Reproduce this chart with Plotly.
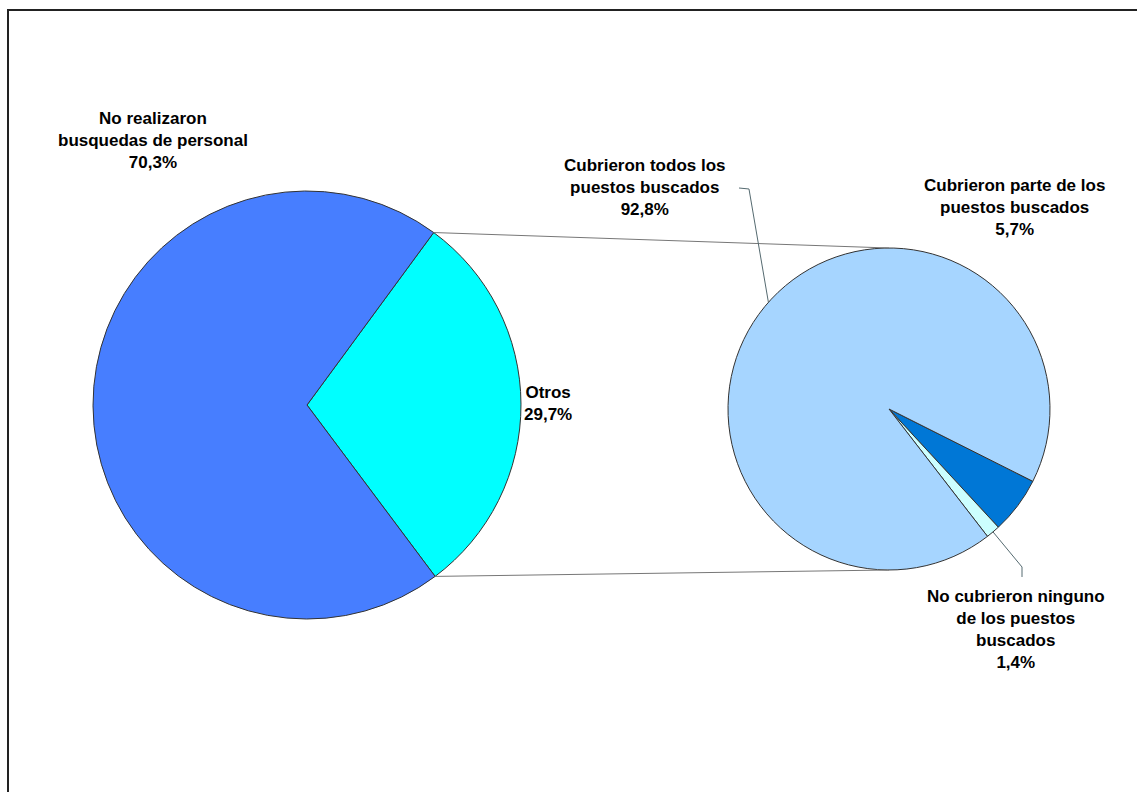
import math
import plotly.graph_objects as go

W, H = 1137, 792

# ---- data ----
left_labels = ["Otros", "No realizaron busquedas de personal"]
left_values = [29.7, 70.3]
left_colors = ["#00FFFF", "#477EFF"]

right_labels = ["Cubrieron parte de los puestos buscados",
                "No cubrieron ninguno de los puestos buscados",
                "Cubrieron todos los puestos buscados"]
right_values = [5.7, 1.4, 92.8]
right_colors = ["#0077D6", "#CCFFFF", "#A6D5FF"]

label_texts = {
    "No realizaron": "No realizaron<br>busquedas de personal<br>70,3%",
    "Otros": "Otros<br>29,7%",
    "todos": "Cubrieron todos los<br>puestos buscados<br>92,8%",
    "parte": "Cubrieron parte de los<br>puestos buscados<br>5,7%",
    "ninguno": "No cubrieron ninguno<br>de los puestos<br>buscados<br>1,4%",
}

# ---- geometry (pixels) ----
L_cx, L_cy, L_r = 307, 405, 214
R_cx, R_cy, R_r = 889, 409, 161
L_rot = 36.3
R_rot = 116.7


def px(x, y):
    return x / W, 1 - y / H


def dom(cx, cy, r):
    x0, y1 = px(cx - r, cy - r)
    x1, y0 = px(cx + r, cy + r)
    return dict(x=[x0, x1], y=[y0, y1])


def on_circle(cx, cy, r, ang):
    a = math.radians(ang)
    return cx + r * math.sin(a), cy - r * math.cos(a)


fig = go.Figure()
fig.add_trace(go.Pie(
    labels=left_labels, values=left_values, sort=False, direction="clockwise",
    rotation=L_rot, textinfo="none", hoverinfo="label+percent",
    marker=dict(colors=left_colors, line=dict(color="#333333", width=1)),
    domain=dom(L_cx, L_cy, L_r), showlegend=False))
fig.add_trace(go.Pie(
    labels=right_labels, values=right_values, sort=False, direction="clockwise",
    rotation=R_rot, textinfo="none", hoverinfo="label+percent",
    marker=dict(colors=right_colors, line=dict(color="#333333", width=1)),
    domain=dom(R_cx, R_cy, R_r), showlegend=False))

shapes = []
# connectors between the pies
tot_l = sum(left_values)
a0 = L_rot
a1 = L_rot + 360 * left_values[0] / tot_l
p_top = on_circle(L_cx, L_cy, L_r, a0)
p_bot = on_circle(L_cx, L_cy, L_r, a1)
q_top = (R_cx, R_cy - R_r)
q_bot = (R_cx, R_cy + R_r)
for p, q in [(p_top, q_top), (p_bot, q_bot)]:
    x0, y0 = px(*p)
    x1, y1 = px(*q)
    shapes.append(dict(type="line", xref="paper", yref="paper", x0=x0, y0=y0,
                       x1=x1, y1=y1, line=dict(color="#777777", width=1)))

# leader lines
tot_r = sum(right_values)
ang_todos = 311.5
pt = on_circle(R_cx, R_cy, R_r, ang_todos)
path_pts = [(739, 188), (749, 189), pt]
d = "M " + " L ".join("%f,%f" % px(*p) for p in path_pts)
shapes.append(dict(type="path", xref="paper", yref="paper", path=d,
                   line=dict(color="#556a70", width=1)))
ang_ning = R_rot + 360 * (right_values[0] + right_values[1] / 2) / tot_r
pn = on_circle(R_cx, R_cy, R_r, ang_ning)
path_pts = [pn, (1022, 567), (1022, 577)]
d = "M " + " L ".join("%f,%f" % px(*p) for p in path_pts)
shapes.append(dict(type="path", xref="paper", yref="paper", path=d,
                   line=dict(color="#556a70", width=1)))

# frame
fx0, fy0 = px(8, 10)
fx1, fy1 = px(1160, 820)
shapes.append(dict(type="rect", xref="paper", yref="paper", x0=fx0, y0=fy1,
                   x1=fx1, y1=fy0, line=dict(color="#222222", width=2)))

font = dict(family="Liberation Sans, Arial, sans-serif", size=17, color="#000000")
ann_pos = {
    "No realizaron": (153, 140),
    "Otros": (548, 403),
    "todos": (645, 187),
    "parte": (1014, 207),
    "ninguno": (1016, 629),
}
annotations = []
for k, (x, y) in ann_pos.items():
    ax, ay = px(x, y)
    annotations.append(dict(x=ax, y=ay, xref="paper", yref="paper",
                            text="<b>" + label_texts[k] + "</b>", showarrow=False,
                            xanchor="center", yanchor="middle", align="center",
                            font=font))

fig.update_layout(width=W, height=H, margin=dict(l=0, r=0, t=0, b=0),
                  paper_bgcolor="white", plot_bgcolor="white",
                  shapes=shapes, annotations=annotations)

fig.write_html("out.html", config={"displayModeBar": False},
               post_script="document.body.style.margin='0';")
